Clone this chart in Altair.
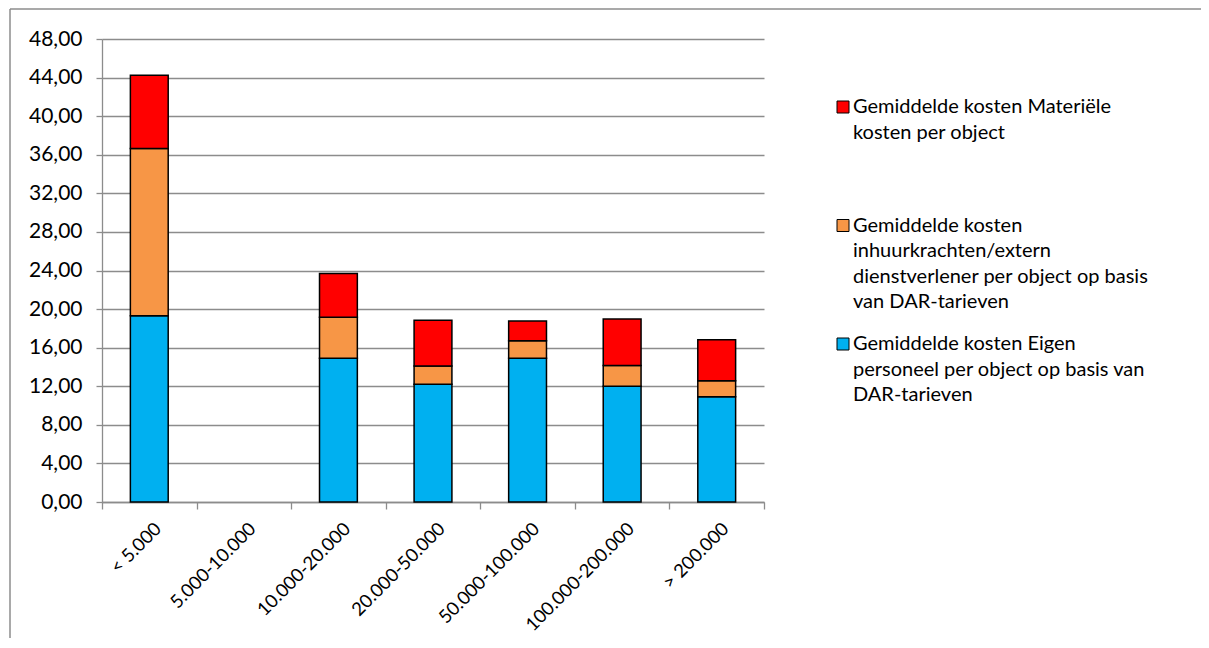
import altair as alt
import pandas as pd

categories = ["< 5.000", "5.000-10.000", "10.000-20.000", "20.000-50.000",
              "50.000-100.000", "100.000-200.000", "> 200.000"]
eigen = [19.3, None, 14.9, 12.2, 14.9, 12.0, 10.9]
inhuur = [17.35, None, 4.25, 1.9, 1.82, 2.14, 1.66]
materieel = [7.6, None, 4.55, 4.74, 2.04, 4.84, 4.25]

series_names = [
    "Gemiddelde kosten Eigen personeel per object op basis van DAR-tarieven",
    "Gemiddelde kosten inhuurkrachten/extern dienstverlener per object op basis van DAR-tarieven",
    "Gemiddelde kosten Materiële kosten per object",
]
series_colors = ["#00B0F0", "#F79646", "#FF0000"]
legend_lines = [
    ["Gemiddelde kosten Materiële", "kosten per object"],
    ["Gemiddelde kosten", "inhuurkrachten/extern", "dienstverlener per object op basis", "van DAR-tarieven"],
    ["Gemiddelde kosten Eigen", "personeel per object op basis van", "DAR-tarieven"],
]
legend_colors = ["#FF0000", "#F79646", "#00B0F0"]
y_ticks = list(range(0, 49, 4))

rows = []
for i, cat in enumerate(categories):
    for k, vals in enumerate([eigen, inhuur, materieel]):
        if vals[i] is not None:
            rows.append({"cat": cat, "serie": series_names[k], "order": k, "value": vals[i]})
df = pd.DataFrame(rows)

FONT = "Lato"
GRID = "#8c8c8c"

bars = alt.Chart(df).mark_bar(stroke="black", strokeWidth=1.5, width=alt.RelativeBandSize(0.4)).encode(
    x=alt.X("cat:N", sort=categories,
            scale=alt.Scale(domain=categories, paddingInner=0, paddingOuter=0),
            axis=alt.Axis(title=None, labelAngle=-45, tickBand="extent", tickSize=7,
                          tickColor=GRID, tickWidth=1.3, domainColor=GRID, domainWidth=1.3,
                          labelFont=FONT, labelFontSize=18.5, labelColor="black",
                          labelPadding=10, labelOffset=2, grid=False)),
    y=alt.Y("value:Q", stack="zero",
            scale=alt.Scale(domain=[0, 48], nice=False),
            axis=alt.Axis(title=None, values=y_ticks,
                          labelExpr="replace(format(datum.value, '.2f'), '.', ',')",
                          grid=True, gridColor=GRID, gridWidth=1.3,
                          domainColor=GRID, domainWidth=1.3, tickColor=GRID, tickWidth=1.3,
                          tickSize=6, labelPadding=14, labelFont=FONT, labelFontSize=21,
                          labelColor="black")),
    color=alt.Color("serie:N", scale=alt.Scale(domain=series_names, range=series_colors), legend=None),
    order=alt.Order("order:Q", sort="ascending"),
)

one = alt.Data(values=[{"a": 1}])

border_left = alt.Chart(one).mark_rule(stroke="#8c8c8c", strokeWidth=1.5).encode(
    x=alt.value(-92), y=alt.value(-30), y2=alt.value(900)
)
border_top = alt.Chart(one).mark_rule(stroke="#8c8c8c", strokeWidth=1.5).encode(
    x=alt.value(-92), x2=alt.value(1400), y=alt.value(-30)
)

layers = [border_left, border_top, bars]
centers = [68, 186.5, 305]
for lines, col, c in zip(legend_lines, legend_colors, centers):
    layers.append(alt.Chart(one).mark_rect(stroke="black", strokeWidth=1, fill=col).encode(
        x=alt.value(735), x2=alt.value(747), y=alt.value(c - 6), y2=alt.value(c + 6)))
    layers.append(alt.Chart(one).mark_text(align="left", baseline="top", font=FONT, fontSize=20,
                                           lineHeight=25.5, color="black").encode(
        x=alt.value(751), y=alt.value(c - 10), text=alt.value(lines)))

chart = alt.layer(*layers).properties(
    width=662, height=463,
    autosize=alt.AutoSizeParams(type="none"),
    padding={"left": 94, "top": 31, "right": 437, "bottom": 136},
).configure_view(stroke="transparent")

chart.save("out.html", embed_options={"renderer": "svg", "actions": False})
